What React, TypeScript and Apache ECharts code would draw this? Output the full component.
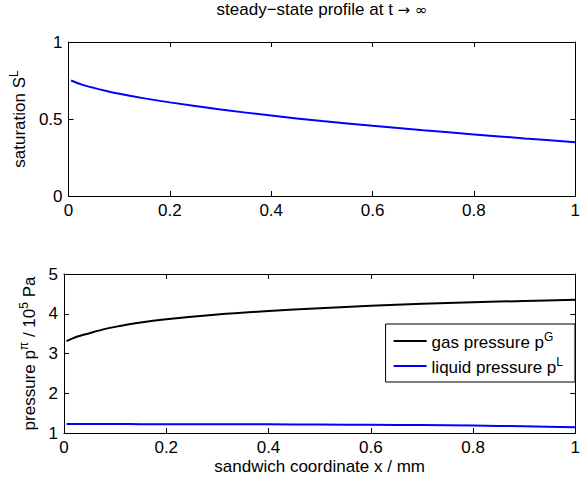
import React, { useEffect, useRef } from "react";
import * as echarts from "echarts";

const xs = [0.005, 0.025, 0.05, 0.075, 0.1, 0.15, 0.2, 0.3, 0.4, 0.5, 0.6, 0.7, 0.8, 0.9, 1.0];
const saturation = [0.75, 0.725, 0.702, 0.682, 0.664, 0.634, 0.608, 0.562, 0.522, 0.487, 0.456, 0.427, 0.4, 0.374, 0.349];
const gasPressure = [3.31, 3.42, 3.51, 3.6, 3.67, 3.78, 3.86, 3.98, 4.07, 4.14, 4.2, 4.25, 4.29, 4.32, 4.35];
const liquidPressure = [1.225, 1.225, 1.225, 1.224, 1.224, 1.223, 1.222, 1.22, 1.217, 1.213, 1.207, 1.199, 1.186, 1.168, 1.145];

const xTicks = [0, 0.2, 0.4, 0.6, 0.8, 1];
const satTicks = [0, 0.5, 1];
const presTicks = [1, 2, 3, 4, 5];

const FONT = "Liberation Sans, Arial, Helvetica, sans-serif";
const SYMFONT = "DejaVu Sans, sans-serif";
const FS = 17;

const rich = {
  n: { fontSize: FS, fontFamily: FONT, color: "#000", verticalAlign: "bottom" as const },
  s: { fontSize: 12, fontFamily: FONT, color: "#000", verticalAlign: "bottom" as const, padding: [0, 0, 8, 0] },
  sym: { fontSize: 15, fontFamily: SYMFONT, color: "#000", verticalAlign: "bottom" as const, padding: [0, 0, 1, 0] },
};

function boxAxis(gridIndex: number, position: string, min: number, max: number, interval: number, extra: any = {}) {
  return {
    type: "value",
    gridIndex,
    position,
    min,
    max,
    interval,
    axisLine: { show: true, onZero: false, lineStyle: { color: "#000", width: 1 } },
    axisTick: { show: true, inside: true, length: 5, lineStyle: { color: "#000", width: 1 } },
    axisLabel: { show: false },
    splitLine: { show: false },
    ...extra,
  };
}

export default function App() {
  const ref = useRef<HTMLDivElement>(null);
  useEffect(() => {
    document.body.style.margin = "0";
    if (!ref.current) return;
    const chart = echarts.init(ref.current, undefined, { renderer: "svg" });
    const labelStyle = { show: true, color: "#000", fontSize: FS, fontFamily: FONT, margin: 6 };
    const xMin = xTicks[0];
    const xMax = xTicks[xTicks.length - 1];
    const xInt = xTicks[1] - xTicks[0];
    const satMin = satTicks[0];
    const satMax = satTicks[satTicks.length - 1];
    const satInt = satTicks[1] - satTicks[0];
    const pMin = presTicks[0];
    const pMax = presTicks[presTicks.length - 1];
    const pInt = presTicks[1] - presTicks[0];
    const lineSeries = (name: string, xi: number, yi: number, vals: number[], color: string) => ({
      name,
      type: "line",
      xAxisIndex: xi,
      yAxisIndex: yi,
      data: xs.map((x, i) => [x, vals[i]]),
      symbol: "none",
      smooth: 0.3,
      lineStyle: { color, width: 2 },
      itemStyle: { color },
    });
    const option: any = {
      animation: false,
      backgroundColor: "#fff",
      title: {
        text: "{n|steady\u2212state profile at t }{sym|\u2192 \u221e}",
        left: 322,
        top: 1,
        padding: 0,
        textAlign: "center",
        textStyle: { fontSize: FS, fontWeight: "normal", color: "#000", fontFamily: FONT, rich },
      },
      grid: [
        { left: 64, right: 3, top: 42, height: 154 },
        { left: 64, right: 3, top: 274, height: 159 },
      ],
      xAxis: [
        boxAxis(0, "bottom", xMin, xMax, xInt, { axisLabel: labelStyle }),
        boxAxis(0, "top", xMin, xMax, xInt),
        boxAxis(1, "bottom", xMin, xMax, xInt, {
          axisLabel: labelStyle,
          name: "sandwich coordinate x / mm",
          nameLocation: "middle",
          nameGap: 25,
          nameTextStyle: { fontSize: FS, fontFamily: FONT, color: "#000" },
        }),
        boxAxis(1, "top", xMin, xMax, xInt),
      ],
      yAxis: [
        boxAxis(0, "left", satMin, satMax, satInt, {
          axisLabel: labelStyle,
          name: "{n|saturation S}{s|L}",
          nameLocation: "middle",
          nameGap: 35,
          nameRotate: 90,
          nameTextStyle: { rich },
        }),
        boxAxis(0, "right", satMin, satMax, satInt),
        boxAxis(1, "left", pMin, pMax, pInt, {
          axisLabel: labelStyle,
          name: "{n|pressure p}{s|\u03c0}{n| / 10}{s|5}{n| Pa}",
          nameLocation: "middle",
          nameGap: 18,
          nameRotate: 90,
          nameTextStyle: { rich },
        }),
        boxAxis(1, "right", pMin, pMax, pInt),
      ],
      legend: {
        orient: "vertical",
        right: 8,
        top: 324,
        backgroundColor: "#fff",
        borderColor: "#000",
        borderWidth: 1,
        borderRadius: 0,
        padding: [7, 12, 6, 8],
        icon: "rect",
        itemWidth: 33,
        itemHeight: 2,
        itemGap: 5,
        data: ["gas", "liquid"],
        formatter: (name: string) =>
          name === "gas" ? "{n|gas pressure p}{s|G}" : "{n|liquid pressure p}{s|L}",
        textStyle: { rich, fontSize: FS, fontFamily: FONT, color: "#000" },
      },
      series: [
        lineSeries("saturation", 0, 0, saturation, "#0000ff"),
        lineSeries("gas", 2, 2, gasPressure, "#000000"),
        lineSeries("liquid", 2, 2, liquidPressure, "#0000ff"),
      ],
    };
    chart.setOption(option);
    return () => chart.dispose();
  }, []);
  return <div ref={ref} style={{ width: 583, height: 480 }} />;
}
